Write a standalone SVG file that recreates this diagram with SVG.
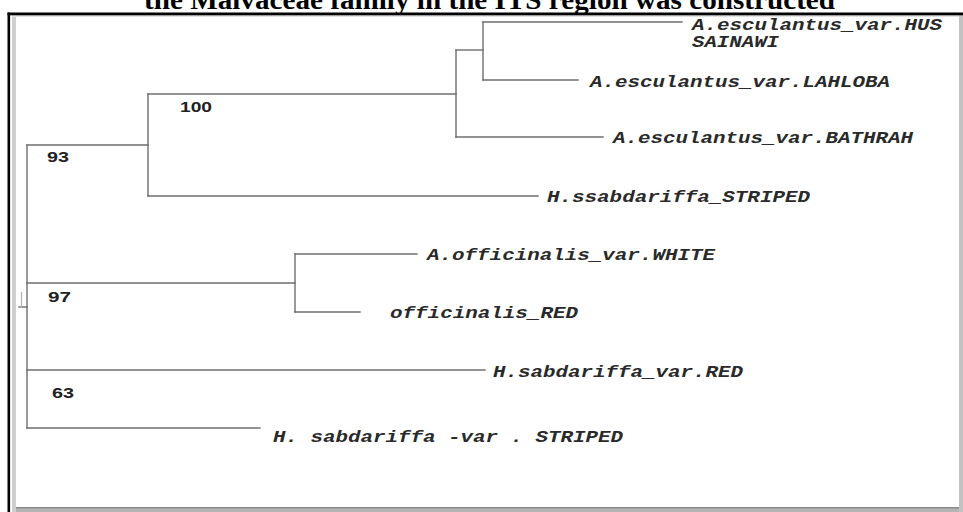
<svg xmlns="http://www.w3.org/2000/svg" width="963" height="512" viewBox="0 0 963 512">
<style>
.br{stroke:#6e6e6e;stroke-width:1.4;fill:none;stroke-linecap:square}
.lab{font-family:"Liberation Mono","Courier New",monospace;font-style:italic;font-weight:bold;font-size:16px;fill:#2a2a2a}
.bs{font-family:"Liberation Sans",Arial,sans-serif;font-weight:bold;font-size:14px;fill:#222}
.title{font-family:"Liberation Serif","Times New Roman",serif;font-weight:bold;font-size:28px;fill:#000}
</style>
<rect x="0" y="0" width="963" height="512" fill="#fff"/>
<text class="title" x="144" y="9" textLength="691" lengthAdjust="spacingAndGlyphs">the Malvaceae family in the ITS region was constructed</text>
<g id="frame">
<rect x="12" y="507" width="951" height="5" fill="#b4b4b4"/>
<rect x="12" y="507" width="951" height="1.5" fill="#8c8c8c"/>
<rect x="959" y="15" width="4" height="497" fill="#c2c2c2"/>
<rect x="12" y="15" width="4" height="497" fill="#cfcfcf"/>
<rect x="12" y="15" width="947" height="2" fill="#e2e2e2"/>
<rect x="7.5" y="12.5" width="955.5" height="2.8" fill="#000"/>
<rect x="7.5" y="12.5" width="2.6" height="499.5" fill="#000"/>
</g>
<g id="connectors">
<path class="br" d="M27,145 V428"/>
<path class="br" d="M27,145 H148"/>
<path class="br" d="M148,94 V196"/>
<path class="br" d="M148,94 H456"/>
<path class="br" d="M148,196 H538"/>
<path class="br" d="M456,50 V137"/>
<path class="br" d="M456,50 H483"/>
<path class="br" d="M483,22 V80"/>
<path class="br" d="M483,22 H682"/>
<path class="br" d="M483,80 H578"/>
<path class="br" d="M456,137 H603"/>
<path class="br" d="M27,283 H295"/>
<path class="br" d="M295,254 V312"/>
<path class="br" d="M295,254 H417"/>
<path class="br" d="M295,312 H360"/>
<path class="br" d="M27,370 H485"/>
<path class="br" d="M27,428 H260"/>
<path class="br" d="M19,307 H27"/>
<path d="M21.5,292 V308" stroke="#b0b0b0" stroke-width="1.2"/>
</g>
<g id="n-hus"><text class="lab" x="692" y="30" textLength="250" lengthAdjust="spacingAndGlyphs">A.esculantus_var.HUS</text><text class="lab" x="692" y="47" textLength="87" lengthAdjust="spacingAndGlyphs">SAINAWI</text></g>
<g id="n-lahloba"><text class="lab" x="590" y="87" textLength="300" lengthAdjust="spacingAndGlyphs">A.esculantus_var.LAHLOBA</text></g>
<g id="n-bathrah"><text class="lab" x="613" y="143" textLength="300" lengthAdjust="spacingAndGlyphs">A.esculantus_var.BATHRAH</text></g>
<g id="n-hs-striped"><text class="lab" x="547" y="202" textLength="263" lengthAdjust="spacingAndGlyphs">H.ssabdariffa_STRIPED</text></g>
<g id="n-white"><text class="lab" x="427" y="260" textLength="288" lengthAdjust="spacingAndGlyphs">A.officinalis_var.WHITE</text></g>
<g id="n-offred"><text class="lab" x="390" y="318" textLength="188" lengthAdjust="spacingAndGlyphs">officinalis_RED</text></g>
<g id="n-hsred"><text class="lab" x="493" y="377" textLength="250" lengthAdjust="spacingAndGlyphs">H.sabdariffa_var.RED</text></g>
<g id="n-hsvstriped"><text class="lab" x="273" y="442" textLength="350" lengthAdjust="spacingAndGlyphs">H. sabdariffa -var . STRIPED</text></g>
<g id="bootstrap">
<text class="bs" x="180" y="112" textLength="32" lengthAdjust="spacingAndGlyphs">100</text>
<text class="bs" x="47" y="162" textLength="22" lengthAdjust="spacingAndGlyphs">93</text>
<text class="bs" x="48" y="302" textLength="23" lengthAdjust="spacingAndGlyphs">97</text>
<text class="bs" x="52" y="398" textLength="22" lengthAdjust="spacingAndGlyphs">63</text>
</g>
</svg>
